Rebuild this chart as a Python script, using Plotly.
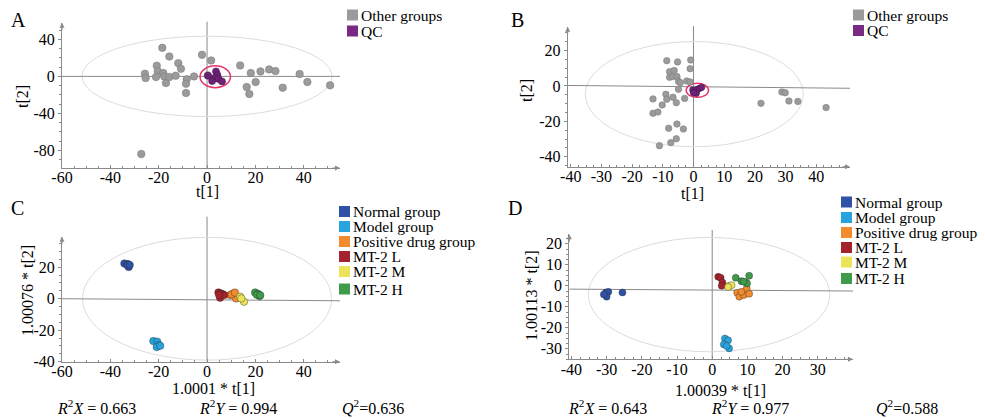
import plotly.graph_objects as go

# ---------------- data ----------------
# Panel A (PCA, all samples + QC)
a_other_x = [-18.5, -15.6, -11.9, -10.8, -20.8, -20.4, -18.1, -25.7, -25.4, -21.1, -17.7, -17.0,
             -15.6, -13.0, -8.4, -8.7, -8.7, -5.4, -2.1, 1.7, 13.7, 18.1, 16.4, 17.5, 20.1, 22.1,
             25.7, 28.3, 31.3, 38.3, 41.5, 50.9, -27.2, 0.3]
a_other_y = [30.8, 21.5, 14.3, 8.2, 11.5, 5.7, 3.6, 2.9, -1.8, -0.7, 0.0, -7.2,
             -0.7, 0.7, -3.2, -7.9, -17.9, 0.0, 23.3, 17.2, 11.8, 3.6, -11.5, -19.0, -6.1, 5.4,
             7.5, 5.7, -12.2, 2.5, -6.1, -9.7, -83.9, 1.1]
a_qc_x = [0.4, 3.7, 4.3, 3.0, 2.1, 4.8, 6.2]
a_qc_y = [0.7, 5.4, 1.4, -1.8, -5.0, -2.9, -5.4]

# Panel B
b_other_x = [-8.7, -5.2, -0.9, -1.1, -7.8, -6.3, -7.8, -6.7, -5.4, -4.9, -4.3, -2.2, -1.1, -4.9,
             -9.0, -8.7, -6.7, -2.9, -5.6, -13.2, -10.2, -13.2, -11.6, -8.1, -5.4, -3.3, -5.6,
             -7.4, -11.1, 22.0, 28.8, 29.9, 31.1, 34.0, 43.2]
b_other_y = [14.3, 13.6, 14.7, 9.8, 8.1, 8.7, 4.9, 5.3, 5.3, 2.6, 1.9, 2.8, 2.3, -1.9,
             -4.7, -7.5, -6.4, -7.0, -9.4, -7.3, -10.7, -15.4, -14.7, -23.9, -21.5, -24.3, -29.8,
             -32.0, -33.7, -9.8, -3.4, -3.8, -8.5, -8.7, -12.2]
b_qc_x = [-0.2, 0.5, 1.3, 2.0, 2.6, 0.9, 0.0]
b_qc_y = [-2.3, -3.4, -1.9, -1.3, -0.8, -4.1, -3.8]

# Panels C and D (OPLS-DA score plots)
group_names = ["Normal group", "Model group", "Positive drug group", "MT-2 L", "MT-2 M", "MT-2 H"]
group_colors = ["#2f52a6", "#27a3de", "#f28a2e", "#a3222b", "#ece35a", "#3f9a4a"]

c_group = (["Normal group"] * 5 + ["Model group"] * 5 + ["Positive drug group"] * 5 +
           ["MT-2 L"] * 6 + ["MT-2 M"] * 3 + ["MT-2 H"] * 5)
c_x = [-34.2, -32.8, -32.4, -33.0, -32.0,
       -22.2, -20.6, -20.0, -20.8, -19.4,
       10.9, 9.5, 12.0, 10.2, 11.5,
       4.7, 5.7, 6.5, 5.4, 7.0, 5.0,
       13.7, 15.3, 14.2,
       19.9, 21.2, 21.7, 20.6, 22.0]
c_y = [22.4, 22.0, 20.2, 21.3, 21.5,
       -26.9, -27.3, -29.4, -30.7, -29.9,
       3.4, 2.3, 0.2, 2.8, 3.9,
       4.0, 3.4, 2.8, 0.6, 2.3, 2.5,
       1.3, -1.9, 0.2,
       4.0, 3.0, 1.7, 2.6, 2.2]

d_group = (["Normal group"] * 5 + ["Model group"] * 5 + ["Positive drug group"] * 6 +
           ["MT-2 L"] * 4 + ["MT-2 M"] * 3 + ["MT-2 H"] * 6)
d_x = [-30.2, -29.5, -30.0, -30.8, -25.5,
       3.6, 4.5, 3.3, 4.8, 4.1,
       7.1, 7.7, 9.0, 9.8, 10.5, 8.3,
       1.7, 2.4, 2.9, 2.7,
       4.8, 5.5, 4.5,
       6.7, 8.3, 9.6, 10.5, 9.9, 8.9]
d_y = [-3.2, -2.9, -5.2, -4.1, -3.2,
       -25.1, -25.9, -27.9, -29.8, -28.6,
       -3.3, -5.2, -4.4, -1.3, -3.8, -2.9,
       4.3, 3.8, 1.6, 0.0,
       0.0, 0.3, -0.6,
       3.8, 2.2, 1.6, 4.8, 1.1, 2.0]

# tick labels per panel
a_xticks = [-60, -40, -20, 0, 20, 40]
a_yticks = [-80, -40, 0, 40]
b_xticks = [-40, -30, -20, -10, 0, 10, 20, 30, 40]
b_yticks = [-40, -20, 0, 20]
c_xticks = [-60, -40, -20, 0, 20, 40]
c_yticks = [-40, -20, 0, 20]
d_xticks = [-40, -30, -20, -10, 0, 10, 20, 30]
d_yticks = [-30, -20, -10, 0, 10, 20]

stats_c = ["0.663", "0.994", "0.636"]
stats_d = ["0.643", "0.977", "0.588"]

# ---------------- styling ----------------
FONT = "Liberation Serif, Times New Roman, Tinos, DejaVu Serif, serif"
W, H = 985, 418
AXC = "#8a8a8a"
GRAY = "#9b9b9b"
QC_COL = "#6e2275"

fig = go.Figure()

panels = {
    "A": dict(xa="x", ya="y", xr=[-60, 55], yr=[-99, 58], px=[62, 340], py=[22.7, 168],
              xt=a_xticks, yt=a_yticks, dx=20, dy=40, vtop=21.7),
    "B": dict(xa="x2", ya="y2", xr=[-41, 51], yr=[-45.6, 33.5], px=[567.7, 850], py=[26.7, 166.7],
              xt=b_xticks, yt=b_yticks, dx=10, dy=20, vtop=26.0),
    "C": dict(xa="x3", ya="y3", xr=[-60, 55], yr=[-40, 39.4], px=[62, 340], py=[236.7, 361.7],
              xt=c_xticks, yt=c_yticks, dx=20, dy=20, vtop=216.7),
    "D": dict(xa="x4", ya="y4", xr=[-40.6, 40], yr=[-35, 24.5], px=[569.3, 853], py=[234.3, 359.3],
              xt=d_xticks, yt=d_yticks, dx=10, dy=10, vtop=230.0),
}

def axis_name(ref):
    return "xaxis" + ref[1:] if ref.startswith("x") else "yaxis" + ref[1:]

layout_axes = {}
for key, p in panels.items():
    xn = axis_name(p["xa"])
    yn = axis_name(p["ya"])
    layout_axes[xn] = dict(
        domain=[p["px"][0] / W, p["px"][1] / W], range=p["xr"], anchor=p["ya"], automargin=False,
        showgrid=False, zeroline=False, showline=True, linecolor=AXC, linewidth=1,
        ticks="inside", ticklen=3, tickcolor=AXC, tickmode="array", tickvals=p["xt"],
        ticktext=[str(v) for v in p["xt"]],
        minor=dict(ticks="inside", ticklen=2, tickcolor=AXC, dtick=p["dx"] / 4, tick0=0),
        ticklabelstandoff=-5,
        tickfont=dict(family=FONT, size=16, color="black"), fixedrange=True,
    )
    layout_axes[yn] = dict(
        domain=[1 - p["py"][1] / H, 1 - p["py"][0] / H], range=p["yr"], anchor=p["xa"], automargin=False,
        showgrid=False, zeroline=False, showline=True, linecolor=AXC, linewidth=1,
        ticks="outside", ticklen=3, tickcolor=AXC, tickmode="array", tickvals=p["yt"],
        ticktext=[str(v) for v in p["yt"]],
        minor=dict(ticks="outside", ticklen=2, tickcolor=AXC, dtick=p["dy"] / 4, tick0=0),
        tickfont=dict(family=FONT, size=16, color="black"), fixedrange=True,
    )

shapes = []
annotations = []

def ellipse(p, cx, cy, a, b, color, width):
    shapes.append(dict(type="circle", xref=p["xa"], yref=p["ya"], x0=cx - a, x1=cx + a,
                       y0=cy - b, y1=cy + b, line=dict(color=color, width=width), layer="below"))

def crosshair(p, yl, yr_):
    shapes.append(dict(type="line", xref=p["xa"], yref=p["ya"], x0=p["xr"][0], x1=p["xr"][1],
                       y0=yl, y1=yr_, line=dict(color=AXC, width=1), layer="below"))
    # vertical t[1] = 0 line (may reach above the plotting area, as in the original)
    shapes.append(dict(type="line", xref=p["xa"], yref="paper", x0=0, x1=0,
                       y0=1 - p["py"][1] / H, y1=1 - p["vtop"] / H, line=dict(color=AXC, width=1), layer="below"))

def arrows(p):
    annotations.append(dict(xref=p["xa"], yref=p["ya"], x=p["xr"][1], y=p["yr"][0], ax=-9, ay=0,
                            showarrow=True, arrowhead=2, arrowsize=1, arrowwidth=1, arrowcolor=AXC, text=""))
    annotations.append(dict(xref=p["xa"], yref=p["ya"], x=p["xr"][0], y=p["yr"][1], ax=0, ay=9,
                            showarrow=True, arrowhead=2, arrowsize=1, arrowwidth=1, arrowcolor=AXC, text=""))

def text(x, y, s, size=16, xanchor="center", angle=0):
    annotations.append(dict(xref="paper", yref="paper", x=x / W, y=1 - y / H, text=s, showarrow=False,
                            xanchor=xanchor, yanchor="middle", textangle=angle, borderpad=0,
                            font=dict(family=FONT, size=size, color="black")))

def legend(x, ys, names, colors, size):
    for yy, n, c in zip(ys, names, colors):
        shapes.append(dict(type="rect", xref="paper", yref="paper", x0=x / W, x1=(x + 11) / W,
                           y0=1 - (yy + 5.5) / H, y1=1 - (yy - 5.5) / H, fillcolor=c, line=dict(width=0)))
        text(x + 13, yy, n, size=size, xanchor="left")

# ---- Panel A ----
pA = panels["A"]
ellipse(pA, 0, 0, 51.7, 43.4, "#dcdcdc", 1)
crosshair(pA, 0, 0)
arrows(pA)
fig.add_trace(go.Scatter(x=a_other_x, y=a_other_y, mode="markers", xaxis="x", yaxis="y",
                         marker=dict(size=7.5, color=GRAY, line=dict(color="#808080", width=0.6)), showlegend=False))
fig.add_trace(go.Scatter(x=a_qc_x, y=a_qc_y, mode="markers", xaxis="x", yaxis="y",
                         marker=dict(size=7, color=QC_COL, line=dict(color="#4a1450", width=0.6)), showlegend=False))
ellipse(pA, 3.4, -0.4, 6.3, 11.8, "#e8336b", 1.5)

# ---- Panel B ----
pB = panels["B"]
ellipse(pB, 0.25, -4.6, 35.5, 29.7, "#dcdcdc", 1)
crosshair(pB, 0.3, -1.3)
arrows(pB)
fig.add_trace(go.Scatter(x=b_other_x, y=b_other_y, mode="markers", xaxis="x2", yaxis="y2",
                         marker=dict(size=6.5, color=GRAY, line=dict(color="#808080", width=0.6)), showlegend=False))
fig.add_trace(go.Scatter(x=b_qc_x, y=b_qc_y, mode="markers", xaxis="x2", yaxis="y2",
                         marker=dict(size=6.5, color=QC_COL, line=dict(color="#4a1450", width=0.6)), showlegend=False))
ellipse(pB, 1.25, -2.45, 3.65, 3.95, "#e8336b", 1.5)

# ---- Panels C, D ----
for key, gx, gy, gg in (("C", c_x, c_y, c_group), ("D", d_x, d_y, d_group)):
    p = panels[key]
    for name, col in zip(group_names, group_colors):
        xs = [x for x, g in zip(gx, gg) if g == name]
        ys = [y for y, g in zip(gy, gg) if g == name]
        fig.add_trace(go.Scatter(x=xs, y=ys, mode="markers", xaxis=p["xa"], yaxis=p["ya"],
                                 marker=dict(size=7.5 if key == "C" else 7, color=col,
                                             line=dict(color="rgba(40,40,40,0.55)", width=0.7)),
                                 showlegend=False))
    arrows(p)

ellipse(panels["C"], 0, 0, 51.5, 39.0, "#dcdcdc", 1)
crosshair(panels["C"], 0, -1.3)
ellipse(panels["D"], -0.9, -4.2, 34.3, 27.2, "#dcdcdc", 1)
crosshair(panels["D"], -1.6, -2.5)

# ---- panel letters ----
text(18, 20, "A", size=20)
text(517, 20, "B", size=20)
text(17, 208, "C", size=20)
text(515, 208, "D", size=20)

# ---- axis titles ----
text(207, 192, "t[1]", size=16)
text(23, 97, "t[2]", size=16, angle=-90)
text(692, 193, "t[1]", size=16)
text(527, 91, "t[2]", size=16, angle=-90)
text(213, 388, "1.0001 * t[1]", size=16)
text(27, 291, "1.00076 * t[2]", size=16, angle=-90)
text(720, 390, "1.00039 * t[1]", size=16)
text(531, 296, "1.00113 * t[2]", size=16, angle=-90)

# ---- legends ----
legend(347, [15, 31], ["Other groups", "QC"], [GRAY, "#7a2a82"], 15.5)
legend(853, [15, 30.5], ["Other groups", "QC"], [GRAY, "#7a2a82"], 15.5)
legend(339, [211.5, 226.5, 241.5, 256.5, 271.5, 289], group_names, group_colors, 15.5)
legend(841, [202, 217.5, 232.5, 247.5, 262, 278.5], group_names, group_colors, 15.5)

# ---- statistics ----
for xs, st in (([96, 238, 373], stats_c), ([607, 750, 907], stats_d)):
    text(xs[0], 407, "<i>R</i><sup>2</sup><i>X</i> = " + st[0], size=16)
    text(xs[1], 407, "<i>R</i><sup>2</sup><i>Y</i> = " + st[1], size=16)
    text(xs[2], 407, "<i>Q</i><sup>2</sup>=" + st[2], size=16)

fig.update_layout(template="none", width=W, height=H,
                  margin=dict(l=0, r=0, t=0, b=0, pad=0, autoexpand=False), autosize=False,
                  paper_bgcolor="white", plot_bgcolor="white", showlegend=False, hovermode=False,
                  shapes=shapes, annotations=annotations, **layout_axes)

fig.write_html("out.html", config={"displayModeBar": False, "staticPlot": True},
               post_script="document.body.style.margin='0';document.body.style.padding='0';"
                           "document.body.style.overflow='hidden';")
